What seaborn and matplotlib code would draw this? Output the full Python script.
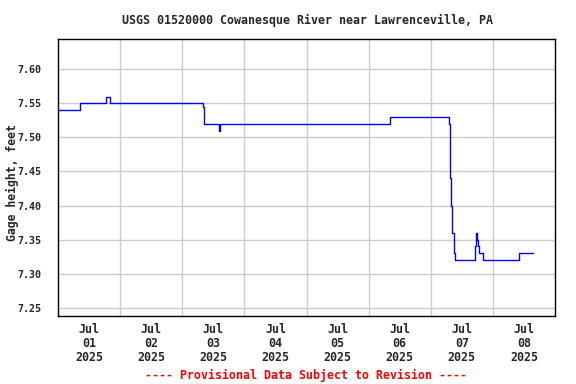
import datetime as dt
import matplotlib
matplotlib.use("Agg")
import matplotlib.pyplot as plt
import numpy as np
import pandas as pd
import seaborn as sns

# step changes of the gage record: hours after Jul 01 00:00, value in feet
hours = [0, 8.6, 18.7, 20.0, 55.9, 56.3, 62.1, 62.5, 128.2, 151.1, 151.5,
         152.0, 152.4, 152.8, 153.1, 153.5, 161.1, 161.5, 161.9, 162.3,
         162.7, 164.2, 178.2, 183.4]
gage_ft = [7.54, 7.55, 7.56, 7.55, 7.545, 7.52, 7.51, 7.52, 7.53, 7.52, 7.44,
           7.40, 7.36, 7.34, 7.33, 7.32, 7.34, 7.36, 7.35, 7.34,
           7.33, 7.32, 7.33, 7.33]
y_ticks = [7.25, 7.30, 7.35, 7.40, 7.45, 7.50, 7.55, 7.60]
day_labels = ["Jul\n01\n2025", "Jul\n02\n2025", "Jul\n03\n2025", "Jul\n04\n2025",
              "Jul\n05\n2025", "Jul\n06\n2025", "Jul\n07\n2025", "Jul\n08\n2025"]

start = dt.datetime(2025, 7, 1)
df = pd.DataFrame({
    "time": [start + dt.timedelta(hours=h) for h in hours],
    "gage": gage_ft,
})

sns.set_style("white")
plt.rcParams["font.family"] = ["DejaVu Sans Mono"]
plt.rcParams["font.weight"] = "bold"

fig = plt.figure(figsize=(5.76, 3.84), dpi=100)
ax = fig.add_axes([58 / 576, 1 - 316 / 384, 497 / 576, 277 / 384])

sns.lineplot(data=df, x="time", y="gage", ax=ax, color="#0000ff",
             linewidth=1, drawstyle="steps-post", estimator=None)

ax.set_xlim(start, start + dt.timedelta(days=8))
ax.set_ylim(7.2378, 7.6445)

# gridlines at midnight, labels at noon
midnights = [start + dt.timedelta(days=d) for d in range(1, 8)]
noons = [start + dt.timedelta(days=d, hours=12) for d in range(8)]
ax.set_xticks(midnights)
ax.set_xticklabels([])
ax.set_xticks(noons, minor=True)
ax.set_xticklabels(day_labels, minor=True, fontsize=8.4, fontweight="bold",
                   linespacing=1.1)
ax.tick_params(axis="x", which="both", length=0)
ax.tick_params(axis="x", which="minor", pad=5)

ax.set_yticks(y_ticks)
ax.set_yticklabels([f"{v:.2f}" for v in y_ticks], fontsize=7.2, fontweight="bold")
ax.tick_params(axis="y", length=0, pad=12)

ax.grid(True, which="major", color="#cccccc", linewidth=1)
ax.set_axisbelow(True)
for s in ax.spines.values():
    s.set_color("black")
    s.set_linewidth(1)

ax.set_xlabel("")
ax.set_ylabel("")
fig.text(12 / 576, 1 - 183 / 384, "Gage height, feet", rotation=90,
         ha="center", va="center", fontsize=8.3, fontweight="bold")
fig.text(308 / 576, 1 - 20 / 384, "USGS 01520000 Cowanesque River near Lawrenceville, PA",
         ha="center", va="center", fontsize=8.4, fontweight="bold")
fig.text(306 / 576, 1 - 375 / 384, "---- Provisional Data Subject to Revision ----",
         ha="center", va="center", fontsize=8.4, fontweight="bold", color="#ff0000")

fig.savefig("out.png", dpi=100)
